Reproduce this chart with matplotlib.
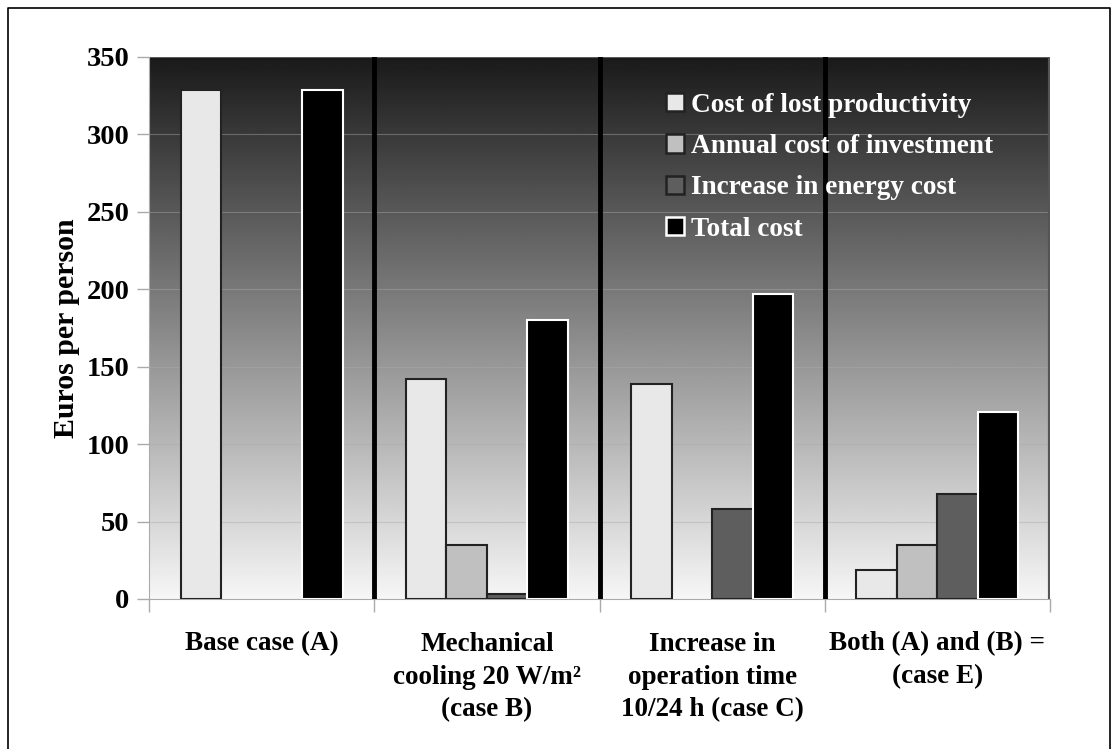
import numpy as np
import matplotlib
matplotlib.use("Agg")
from matplotlib import pyplot as plt
from matplotlib.lines import Line2D
from matplotlib.patches import Patch

# ------------------------------------------------------------------------------
#  Data
# ------------------------------------------------------------------------------
cases = [
    "Base case (A)",
    "Mechanical\ncooling 20 W/m²\n(case B)",
    "Increase in\noperation time\n10/24 h (case C)",
    "Both (A) and (B) =\n(case E)",
]
lost_productivity = [329, 142, 139, 19]
investment = [0, 35, 0, 35]
energy = [0, 3, 58, 68]
total = [329, 180, 197, 121]

series_names = [
    "Cost of lost productivity",
    "Annual cost of investment",
    "Increase in energy cost",
    "Total cost",
]
series_values = [lost_productivity, investment, energy, total]
face_colors = ["#e8e8e8", "#c0c0c0", "#5e5e5e", "#000000"]
edge_colors = ["#222222", "#222222", "#222222", "#ffffff"]

plt.rcParams["font.family"] = ["Liberation Serif", "DejaVu Serif"]
plt.rcParams["font.weight"] = "bold"

W, H = 1112, 749
fig = plt.figure(figsize=(W / 100, H / 100), dpi=100)
ax = fig.add_axes([149 / W, 1 - 599 / H, (1050 - 149) / W, (599 - 57) / H])

x = np.arange(len(cases))
bar_w = 0.18
ymax = 350

# Gradient background: dark on top, nearly white at bottom
grad = np.linspace(0, 1, 256).reshape(-1, 1)
ax.imshow(
    grad, cmap="gray", vmin=-0.12, vmax=1.04, aspect="auto",
    extent=(-0.5, len(cases) - 0.5, 0, ymax), origin="upper", zorder=0,
)

for yv in range(50, ymax + 1, 50):
    ax.axhline(yv, color="#aaaaaa", lw=0.8, alpha=0.45, zorder=1)

for k, (name, vals) in enumerate(zip(series_names, series_values)):
    bars = ax.bar(
        x + (k - 1.5) * bar_w, vals, bar_w, color=face_colors[k],
        edgecolor=edge_colors[k], linewidth=1.5, zorder=3,
    )
    for b, v in zip(bars, vals):
        if v == 0:
            b.set_visible(False)

# group separators
for xs in x[:-1] + 0.5:
    ax.axvline(xs, color="black", lw=3.5, zorder=4)
ax.axvline(len(cases) - 0.5, color="#555555", lw=3, zorder=4)

ax.set_xlim(-0.5, len(cases) - 0.5)
ax.set_ylim(0, ymax)
ax.set_yticks(range(0, ymax + 1, 50))
ax.set_xticks(np.arange(len(cases) + 1) - 0.5)
ax.set_xticklabels([])
ax.tick_params(axis="x", length=9, color="#aaaaaa", width=1)
ax.tick_params(axis="y", length=9, color="#aaaaaa", width=1, labelsize=20.5, pad=5)
for i, lab in enumerate(cases):
    ax.text(i, -21, lab, ha="center", va="top", fontsize=19.5,
            fontweight="bold", linespacing=1.42)

for s in ["top", "right"]:
    ax.spines[s].set_visible(False)
ax.spines["left"].set_color("#aaaaaa")
ax.spines["bottom"].set_color("#aaaaaa")

ax.set_ylabel("Euros per person", fontsize=21.5, fontweight="bold", labelpad=5)

handles = [
    Patch(facecolor=fc, edgecolor=ec, linewidth=1.8)
    for fc, ec in zip(face_colors, edge_colors)
]
ax.legend(
    handles, series_names,
    loc="upper left", bbox_to_anchor=(0.574, 0.934), frameon=False,
    handlelength=0.65, handleheight=0.65, handletextpad=0.28,
    labelspacing=0.6, borderaxespad=0, borderpad=0,
    prop={"size": 19.6, "weight": "bold"}, labelcolor="white",
)

# outer frame
fig.add_artist(Line2D([8 / W, 8 / W, 1110 / W, 1110 / W],
                      [0, 1 - 8 / H, 1 - 8 / H, 0],
                      transform=fig.transFigure, color="black", lw=1.2))

fig.savefig("out.png", dpi=100)
